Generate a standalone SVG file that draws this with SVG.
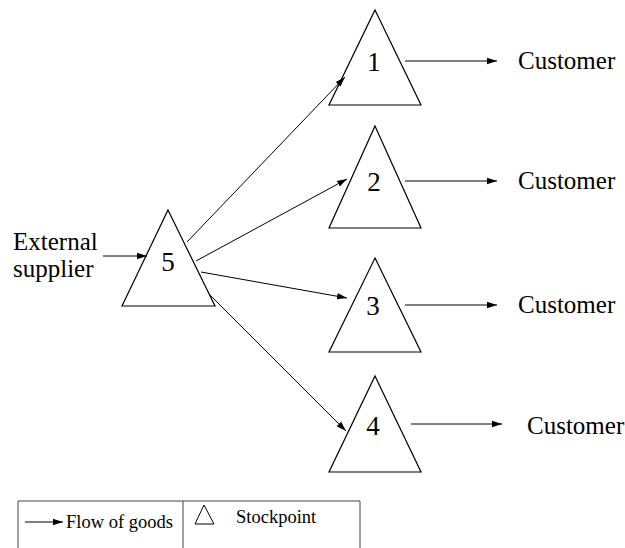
<svg xmlns="http://www.w3.org/2000/svg" width="625" height="548" viewBox="0 0 625 548">
<style>
.tri{fill:#fff;stroke:#000;stroke-width:1.2}
.num{font-family:'Liberation Serif','Times New Roman','DejaVu Serif',serif;font-size:27px;text-anchor:middle;fill:#000}
.lbl{font-family:'Liberation Serif','Times New Roman','DejaVu Serif',serif;font-size:25px;fill:#000}
.edge{stroke:#000;stroke-width:1;fill:none;marker-end:url(#ah)}
.small{font-family:'Liberation Serif','Times New Roman','DejaVu Serif',serif;font-size:18.5px;fill:#000}
</style>
<defs>
<marker id="ah" viewBox="0 0 10 8" refX="10" refY="4" markerWidth="10" markerHeight="8" markerUnits="userSpaceOnUse" orient="auto">
<path d="M0,0.8 L10,4 L0,7.2 Z" fill="#000"/>
</marker>
</defs>
<rect width="625" height="548" fill="#fff"/>
<g id="node1"><polygon class="tri" points="375,10 421,105 329,105"/><text class="num" x="374" y="71">1</text></g>
<g id="node2"><polygon class="tri" points="375,126 421,228 329,228"/><text class="num" x="374" y="191">2</text></g>
<g id="node3"><polygon class="tri" points="375,258 421,352 329,352"/><text class="num" x="373" y="315">3</text></g>
<g id="node4"><polygon class="tri" points="375,376 421,472 329,472"/><text class="num" x="373" y="435">4</text></g>
<g id="node5"><polygon class="tri" points="168,210 215,306 122,306"/><text class="num" x="168" y="271">5</text></g>
<g id="customer1"><text class="lbl" x="518" y="69">Customer</text></g>
<g id="customer2"><text class="lbl" x="518" y="189">Customer</text></g>
<g id="customer3"><text class="lbl" x="518" y="313">Customer</text></g>
<g id="customer4"><text class="lbl" x="527" y="434">Customer</text></g>
<g id="supplier"><text class="lbl" x="13" y="250">External</text><text class="lbl" x="13" y="277">supplier</text></g>
<g id="connectors">
<line class="edge" x1="103" y1="256" x2="147" y2="256"/>
<line class="edge" x1="187" y1="242" x2="345" y2="77"/>
<line class="edge" x1="196" y1="261" x2="347" y2="179"/>
<line class="edge" x1="201" y1="272" x2="347" y2="298"/>
<line class="edge" x1="209" y1="294" x2="346" y2="431"/>
<line class="edge" x1="405" y1="61" x2="497" y2="61"/>
<line class="edge" x1="405" y1="181" x2="497" y2="181"/>
<line class="edge" x1="405" y1="305" x2="497" y2="305"/>
<line class="edge" x1="411" y1="424" x2="502" y2="424"/>
</g>
<g id="legend">
<path d="M18,549 V501 H360 V549 M183,501 V549" fill="none" stroke="#444" stroke-width="1"/>
<line class="edge" x1="25" y1="522" x2="63" y2="522"/>
<text class="small" x="66" y="528">Flow of goods</text>
<polygon points="204,505 214,524 195,524" fill="none" stroke="#000" stroke-width="1"/>
<text class="small" x="236" y="523">Stockpoint</text>
</g>
</svg>
